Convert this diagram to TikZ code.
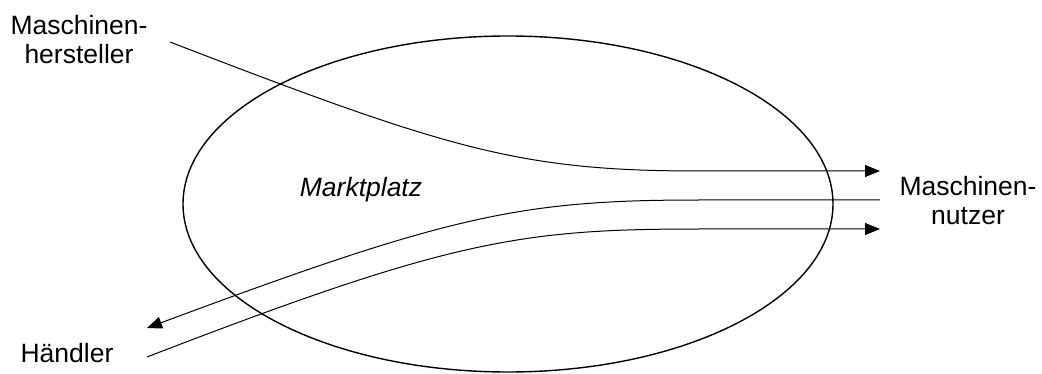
\documentclass[tikz,border=0pt]{standalone}
\usepackage{fontspec}
\setmainfont{Liberation Sans}
\usetikzlibrary{shapes.geometric, arrows.meta, positioning}
\tikzset{
	textnode/.style={
			align=center,
			inner sep=0pt,
			font=\fontsize{26.5}{29}\selectfont
		},
	marketnode/.style={
			ellipse,
			draw=black,
			line width=1.4pt,
			minimum width=650pt,
			minimum height=336pt,
			inner sep=0pt
		},
	flowline/.style={
			draw=black,
			line width=1pt
		},
	flowarrow/.style={
			flowline,
			-{Triangle[length=15pt,width=12pt]}
		}
}

\begin{document}
\begin{tikzpicture}[x=1pt,y=-1pt]
\useasboundingbox (0,0) rectangle (1042,374);

\node[marketnode] (markt) at (508,204) {};
\node[textnode, font=\fontsize{26.5}{29}\selectfont\itshape, anchor=base] (platz) at (361,197) {Marktplatz};

\node[textnode, anchor=base] (hersteller) at (79,64) {Maschinen-\\hersteller};
\node[textnode, anchor=base] (nutzer) at (968,225) {Maschinen-\\nutzer};
\node[textnode, anchor=base] (haendler) at (67,362) {Händler};

\coordinate (hsA) at (170,42);
\coordinate (nuA) at (880,171);
\coordinate (nuB) at (880,200);
\coordinate (haB) at (147,328);
\coordinate (haC) at (147,357);
\coordinate (nuC) at (880,229);

\draw[flowarrow] (hsA) .. controls (450,150) and (520,171) .. (700,171) -- (nuA);
\draw[flowarrow] (nuB) -- (700,200) .. controls (520,200) and (450,215) .. (haB);
\draw[flowarrow] (haC) .. controls (450,240) and (520,229) .. (700,229) -- (nuC);

\end{tikzpicture}
\end{document}
